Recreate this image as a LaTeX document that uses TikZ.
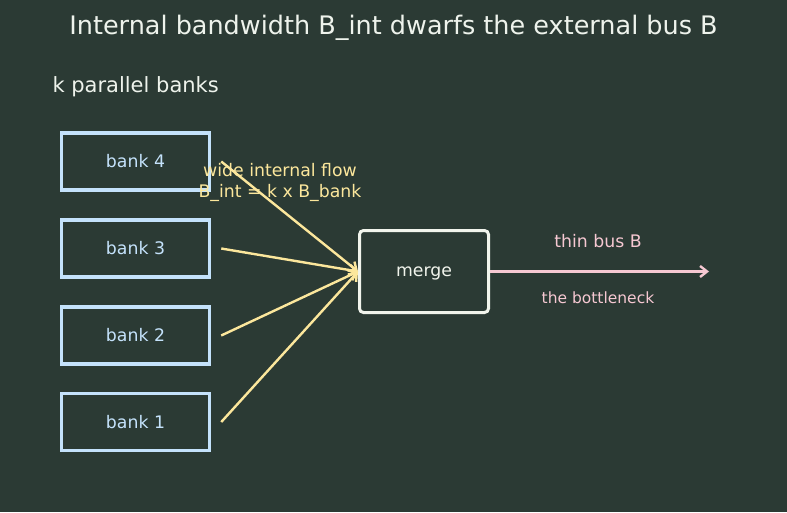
\documentclass[tikz,border=0pt]{standalone}
\usepackage{fontspec}
\setmainfont{DejaVu Sans}
\usetikzlibrary{arrows.meta}

\definecolor{bg}{HTML}{2B3A34}
\definecolor{bankblue}{HTML}{C4E2FB}
\definecolor{flowyellow}{HTML}{FCE79C}
\definecolor{mergewhite}{HTML}{F1F4EC}
\definecolor{buspink}{HTML}{F6C8D2}
\definecolor{titlewhite}{HTML}{EEF3EC}

\tikzset{
  bankbox/.style={draw=bankblue, line width=3.5pt, minimum width=148pt, minimum height=57pt,
    text=bankblue, font=\fontsize{17.3}{20}\selectfont},
  mergebox/.style={draw=mergewhite, line width=3pt, rounded corners=4pt, minimum width=129pt,
    minimum height=82pt, text depth=0pt, text=mergewhite, font=\fontsize{17.3}{20}\selectfont},
  flow/.style={draw=flowyellow, line width=2.4pt, -{Straight Barb[length=7pt,width=11pt]}},
  bus/.style={draw=buspink, line width=2.4pt, -{Straight Barb[length=7pt,width=11pt]}}
}

\begin{document}
\begin{tikzpicture}[x=1pt,y=-1pt]

% background
\fill [bg] (0,0) rectangle (787,512);
\useasboundingbox (0,0) rectangle (787,512);

\node [text=titlewhite, font=\fontsize{25.5}{30}\selectfont] (title) at (393.5,27.5) {Internal bandwidth B\_int dwarfs the external bus B};
\node [anchor=west, text=titlewhite, font=\fontsize{21}{25}\selectfont] (banklabel) at (49,86.5) {k parallel banks};

% the k banks
\foreach \n / \y in {4/161.5, 3/248.5, 2/335.5, 1/422}{
    \node [bankbox] (b\n) at (135.5,\y) {bank \n};
}

\node [mergebox] (merge) at (424,271.5) {merge};
\coordinate (busend) at (709,271.5);

% internal flow
\foreach \n in {4,3,2,1}{
    \draw [flow] ([xshift=10pt]b\n.east) -- (merge.west);
}
\node [text=flowyellow, align=center, font=\fontsize{17.3}{21}\selectfont] (flowlabel) at (280,182.5) {wide internal flow\\B\_int = k x B\_bank};

% external bus
\draw [bus] (merge.east) -- (busend);
\node [text=buspink, font=\fontsize{17.3}{20}\selectfont] (buslabel) at (598,241) {thin bus B};
\node [text=buspink, font=\fontsize{15.5}{18}\selectfont] (bottleneck) at (598,298) {the bottleneck};

\end{tikzpicture}
\end{document}
